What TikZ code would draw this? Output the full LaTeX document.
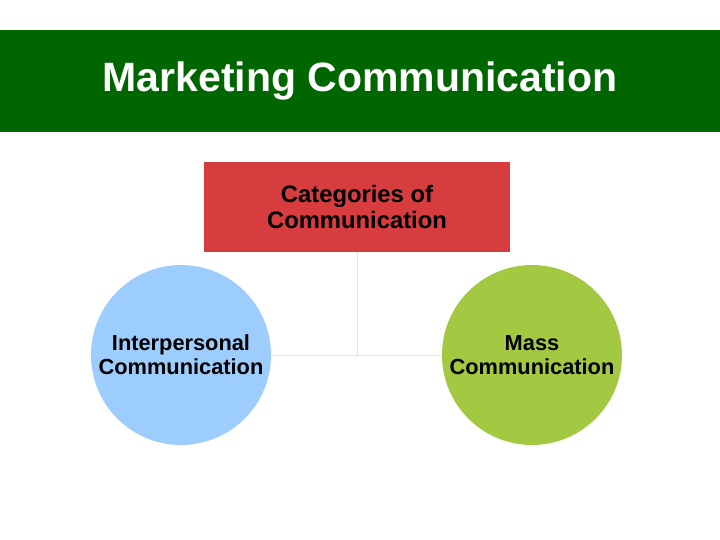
\documentclass[tikz,border=0pt]{standalone}
\usepackage{fontspec}
\setmainfont{Liberation Sans}
\usepackage{tikz}
\usetikzlibrary{positioning}
\definecolor{bannergreen}{HTML}{006600}
\definecolor{catred}{HTML}{D73C3E}
\definecolor{circblue}{HTML}{9DCDFD}
\definecolor{circgreen}{HTML}{A3C943}
\definecolor{linkgray}{HTML}{E3E3E3}
\tikzset{
  banner/.style={ fill=bannergreen, text=white, minimum width=720pt, minimum height=102pt, inner sep=0pt, font=\bfseries\fontsize{41}{48}\selectfont }
}
\tikzset{
  catbox/.style={ fill=catred, minimum width=306pt, minimum height=90pt, align=center, inner sep=0pt, font=\bfseries\fontsize{23.8}{26}\selectfont }
}
\tikzset{
  circI/.style={ circle, fill=circblue, minimum size=180pt, inner sep=0pt, align=center, font=\bfseries\fontsize{21.8}{24}\selectfont }
}
\tikzset{
  circM/.style={ circle, fill=circgreen, minimum size=180pt, inner sep=0pt, align=center, font=\bfseries\fontsize{21.8}{24}\selectfont }
}
\tikzset{
  link/.style={ draw=linkgray, line width=1pt }
}
\begin{document}
\begin{tikzpicture}[x=1pt, y=-1pt]
      \useasboundingbox (0,0) rectangle (720,540);
      \node[banner] (title) at (360, 81) {Marketing Communication};

      \node[catbox] (cat) at (357, 207) {Categories of\\Communication};
      \node[circI] (inter) at (181, 355) {Interpersonal\\Communication};
      \node[circM] (mass) at (532, 355) {Mass\\Communication};

      \coordinate (joint) at (357, 355);
      \draw[link] (cat.south) -- (joint);
      \draw[link] (inter.east) -- (mass.west);
    \end{tikzpicture}
\end{document}
